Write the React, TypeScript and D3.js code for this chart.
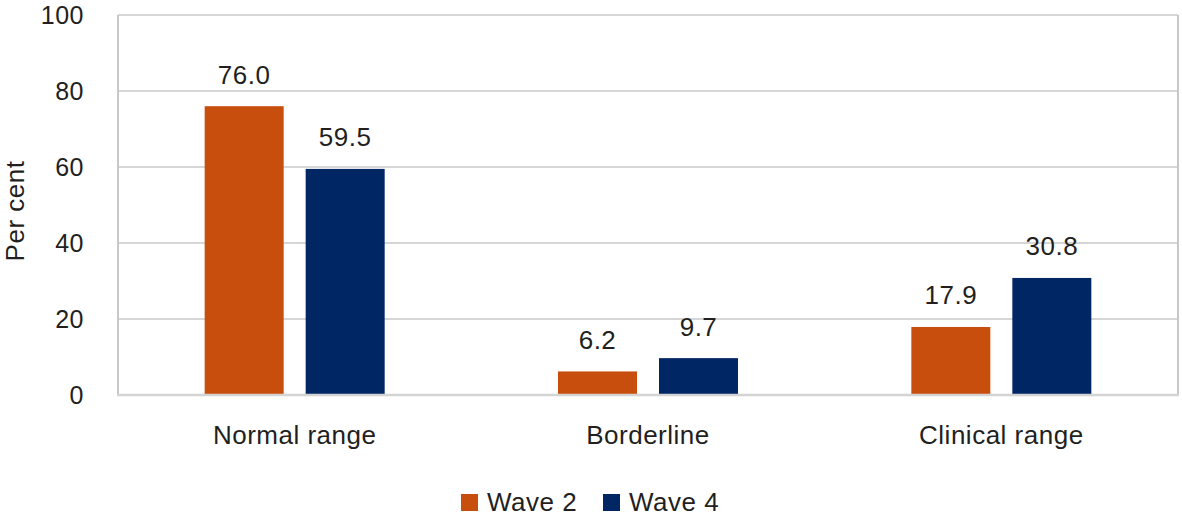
import React from "react";
import * as d3 from "d3";

const categories = ["Normal range", "Borderline", "Clinical range"];
const seriesNames = ["Wave 2", "Wave 4"];
const wave2 = [76.0, 6.2, 17.9];
const wave4 = [59.5, 9.7, 30.8];
const yTicks = [0, 20, 40, 60, 80, 100];
const colors = ["#C84E0E", "#002663"];

const W = 1182;
const H = 517;
const M = { left: 118, right: 1178, top: 15, bottom: 395 };
const FONT = "'Liberation Sans', Arial, Helvetica, sans-serif";
const TXT = "#231F20";
const LS = 0.5;

export default function App() {
  const x = d3.scaleBand<string>().domain(categories).range([M.left, M.right]).paddingInner(0).paddingOuter(0);
  const y = d3.scaleLinear().domain([0, 100]).range([M.bottom, M.top]);
  const barW = 79;
  const gap = 22;
  const series = [wave2, wave4];

  return (
    <svg width={W} height={H} style={{ position: "absolute", left: 0, top: 0, background: "#fff" }} fontFamily={FONT}>
      {yTicks.filter((t) => t > 0).map((t) => (
        <line key={"g" + t} x1={M.left} x2={M.right} y1={y(t)} y2={y(t)} stroke="#C8C8C8" strokeWidth={1.5} />
      ))}
      <line x1={M.left} x2={M.left} y1={M.top} y2={M.bottom} stroke="#C8C8C8" strokeWidth={2} />
      <line x1={M.right} x2={M.right} y1={M.top} y2={M.bottom} stroke="#C8C8C8" strokeWidth={2} />
      {categories.map((c, i) => {
        const cx = x(c)! + x.bandwidth() / 2;
        return (
          <g key={c}>
            {series.map((s, j) => {
              const bx = cx + (j === 0 ? -gap / 2 - barW : gap / 2);
              return (
                <g key={j}>
                  <rect x={bx} y={y(s[i])} width={barW} height={y(0) - y(s[i])} fill={colors[j]} />
                  <text x={bx + barW / 2} y={y(s[i]) - 22.5} textAnchor="middle" fontSize={26} letterSpacing={LS} fill={TXT}>
                    {s[i].toFixed(1)}
                  </text>
                </g>
              );
            })}
            <text x={cx} y={444} textAnchor="middle" fontSize={26} letterSpacing={LS} fill={TXT}>{c}</text>
          </g>
        );
      })}
      <line x1={M.left - 1} x2={M.right + 1} y1={M.bottom} y2={M.bottom} stroke="#D4D4D4" strokeWidth={2.5} />
      {yTicks.map((t) => (
        <text key={"t" + t} x={84} y={y(t) + 9} textAnchor="end" fontSize={25} letterSpacing={LS} fill={TXT}>{t}</text>
      ))}
      <text transform={`translate(24,211) rotate(-90)`} textAnchor="middle" fontSize={26} letterSpacing={LS} fill={TXT}>Per cent</text>
      {seriesNames.map((n, j) => {
        const lx = j === 0 ? 461 : 603;
        return (
          <g key={n}>
            <rect x={lx} y={494} width={17} height={17} fill={colors[j]} />
            <text x={lx + 26} y={511} fontSize={26} letterSpacing={LS} fill={TXT}>{n}</text>
          </g>
        );
      })}
    </svg>
  );
}
